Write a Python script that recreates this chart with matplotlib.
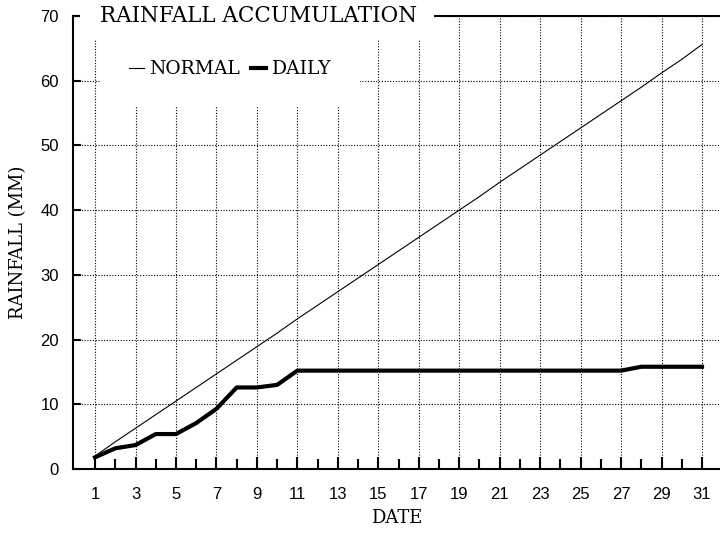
# 라이브러리 호출
import numpy as np
import matplotlib
matplotlib.use('Agg')
import matplotlib.pyplot as plt
from matplotlib.patches import Rectangle

# 데이터
dates = list(range(1, 32))
normal = [2.0, 4.2, 6.3, 8.4, 10.5, 12.6, 14.7, 16.8, 18.9, 21.0,
          23.2, 25.3, 27.4, 29.5, 31.6, 33.7, 35.8, 37.9, 40.0, 42.1,
          44.3, 46.4, 48.5, 50.6, 52.7, 54.8, 56.9, 59.0, 61.2, 63.3, 65.6]
daily = [1.8, 3.2, 3.7, 5.4, 5.4, 7.1, 9.3, 12.6, 12.6, 13.0,
         15.2, 15.2, 15.2, 15.2, 15.2, 15.2, 15.2, 15.2, 15.2, 15.2,
         15.2, 15.2, 15.2, 15.2, 15.2, 15.2, 15.2, 15.8, 15.8, 15.8, 15.8]
major_days = list(range(1, 32, 2))
minor_days = list(range(2, 31, 2))
y_ticks = [0, 10, 20, 30, 40, 50, 60, 70]

serif = 'DejaVu Serif'

fig = plt.figure(figsize=(7.2, 5.33), dpi=100)
ax = fig.add_axes([73/720, 64/533, 647/720, 453/533])

ax.plot(dates, normal, color='black', lw=0.8, label='NORMAL')
ax.plot(dates, daily, color='black', lw=3, label='DAILY')

ax.set_xlim(-0.09, 31.89)
ax.set_ylim(0, 70)
ax.set_xticks(major_days)
ax.set_xticks(minor_days, minor=True)
ax.set_yticks(y_ticks)

ax.grid(True, which='major', color='black', linestyle=(0, (1, 1.5)), lw=0.8)
ax.tick_params(axis='x', which='major', direction='in', length=8.5, width=1.5, pad=13,
               labelsize=12, labelfontfamily='Liberation Sans')
ax.tick_params(axis='x', which='minor', direction='in', length=7, width=1.5)
ax.tick_params(axis='y', direction='in', length=6, width=1.5, pad=10,
               labelsize=12, labelfontfamily='Liberation Sans')

for s in ['left', 'bottom', 'top']:
    ax.spines[s].set_linewidth(1.5)
ax.spines['right'].set_visible(False)

# 제목 뒤 흰 배경
mask = Rectangle((0.011, 0.947), 0.547, 0.07, transform=ax.transAxes,
                 facecolor='white', edgecolor='none', zorder=4, clip_on=False)
ax.add_patch(mask)
ax.text(0.042, 1.0, 'RAINFALL ACCUMULATION', transform=ax.transAxes,
        fontsize=15.5, family=serif, va='center', ha='left', zorder=5)

ax.set_xlabel('DATE', fontsize=13, family=serif, labelpad=5)
ax.set_ylabel('RAINFALL (MM)', fontsize=13, family=serif, labelpad=10)

leg = ax.legend(loc='center', bbox_to_anchor=(0.243, 0.882), ncol=2,
                frameon=True, fancybox=False, handlelength=0.8, handletextpad=0.3,
                columnspacing=0.6, borderpad=1.5, prop={'family': serif, 'size': 13.5})
leg.get_frame().set_facecolor('white')
leg.get_frame().set_edgecolor('none')
leg.get_frame().set_alpha(1)
leg.set_zorder(6)

fig.savefig('out.png', dpi=100)
